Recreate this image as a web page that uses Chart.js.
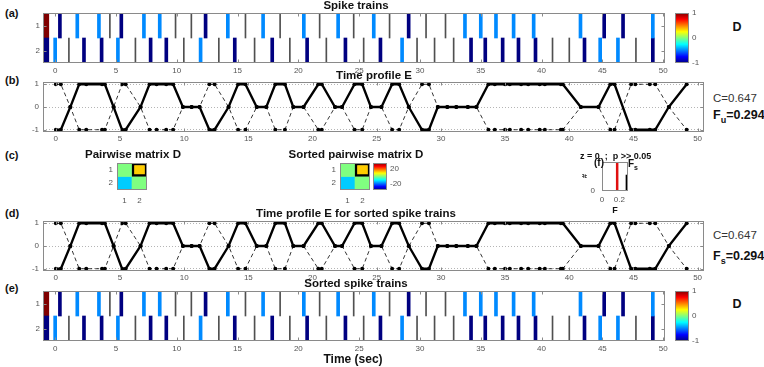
<!DOCTYPE html>
<html><head><meta charset="utf-8">
<script src="https://cdn.jsdelivr.net/npm/chart.js@4.4.1/dist/chart.umd.min.js"></script>
<style>
body{margin:0;background:#fff;width:764px;height:367px;overflow:hidden;position:relative;font-family:"Liberation Sans",Arial,sans-serif;}
.cv{position:absolute;}
.t{position:absolute;white-space:nowrap;color:#111;line-height:1;transform:translateY(-50%);}
.c{transform:translate(-50%,-50%);}
.b{font-weight:bold;}
sub{font-size:9px;vertical-align:-4px;}
</style></head><body>

<canvas id="cA" class="cv" style="left:20px;top:8px" width="648" height="69"></canvas>
<canvas id="cbA" class="cv" style="left:675px;top:8px" width="34" height="60"></canvas>
<canvas id="cB" class="cv" style="left:20px;top:77px" width="688" height="70"></canvas>
<canvas id="cM1" class="cv" style="left:100px;top:160px" width="50" height="47"></canvas>
<canvas id="cM2" class="cv" style="left:323px;top:160px" width="50" height="47"></canvas>
<canvas id="cbM" class="cv" style="left:373px;top:158px" width="40" height="37"></canvas>
<canvas id="cF" class="cv" style="left:585px;top:159px" width="46" height="47"></canvas>
<canvas id="cD" class="cv" style="left:20px;top:216px" width="688" height="70"></canvas>
<canvas id="cE" class="cv" style="left:20px;top:286px" width="648" height="69"></canvas>
<canvas id="cbE" class="cv" style="left:675px;top:286px" width="34" height="60"></canvas>

<div class="t b" style="left:5px;top:13px;font-size:11px">(a)</div>
<div class="t b" style="left:5px;top:80px;font-size:11px">(b)</div>
<div class="t b" style="left:5px;top:155px;font-size:11px">(c)</div>
<div class="t b" style="left:5px;top:213px;font-size:11px">(d)</div>
<div class="t b" style="left:5px;top:288px;font-size:11px">(e)</div>

<div class="t b c" style="left:356px;top:6px;font-size:11.5px">Spike trains</div>
<div class="t b c" style="left:374px;top:76px;font-size:11.5px">Time profile E</div>
<div class="t b c" style="left:133px;top:155px;font-size:11.5px">Pairwise matrix D</div>
<div class="t b c" style="left:356px;top:155px;font-size:11.5px">Sorted pairwise matrix D</div>
<div class="t b c" style="left:356px;top:214px;font-size:11.5px">Time profile E for sorted spike trains</div>
<div class="t b c" style="left:356px;top:284px;font-size:11.5px">Sorted spike trains</div>
<div class="t b c" style="left:353px;top:359px;font-size:12px">Time (sec)</div>

<div class="t b c" style="left:737px;top:27px;font-size:12.5px">D</div>
<div class="t b c" style="left:737px;top:304px;font-size:12.5px">D</div>

<div class="t" style="left:713px;top:99px;font-size:11.5px;color:#333">C=0.647</div>
<div class="t b" style="left:713px;top:117px;font-size:12.5px">F<sub>u</sub>=0.294</div>
<div class="t" style="left:713px;top:236px;font-size:11.5px;color:#333">C=0.647</div>
<div class="t b" style="left:713px;top:258px;font-size:12.5px">F<sub>s</sub>=0.294</div>

<div class="t b" style="left:580px;top:156px;font-size:9px">z = 0&nbsp; ;&nbsp; p &gt;&gt; 0.05</div>
<div class="t b" style="left:594px;top:163px;font-size:10px">(f)</div>
<div class="t b" style="left:628px;top:165px;font-size:10px">F<sub style="font-size:7px;vertical-align:-3px">s</sub></div>
<div class="t b c" style="left:585px;top:176px;font-size:8px;transform:translate(-50%,-50%) rotate(-90deg)">#</div>
<div class="t b c" style="left:615px;top:210px;font-size:9px">F</div>

<script>
// ---- spike trains (time in s, value D per spike; null = unmatched, thin gray)
const train1T=[0.39,1.82,3.6,4.5,5.44,7.3,8.6,9.9,11.2,12.37,14.2,15.65,17.1,18.5,20.45,21.75,23.27,24.55,26.2,27.5,29.07,30.5,32.1,33.7,35.0,36.25,37.7,39.35,43.2,45.15,46.7,49.15];
const train1V=[-1,-.48,-.48,null,-1,-.48,-.48,null,null,-1,-.48,null,-.48,null,-.48,null,-.48,null,-.48,null,-1,null,null,-.48,-.48,-.48,-.48,-.48,-.48,-1,-1,-.48];
const train2T=[0.0,1.13,2.37,3.82,5.16,6.6,7.85,9.14,10.58,11.96,13.46,14.77,16.4,17.85,19.3,20.72,22.3,23.87,25.37,26.75,28.53,29.76,31.2,32.77,34.2,35.37,36.8,38.1,39.5,40.9,42.28,43.53,44.82,46.28,47.76,49.15];
const train2V=[-.48,null,-1,-1,-.48,null,-1,-1,null,-.48,null,-1,null,-1,null,-1,null,-1,null,-1,-.48,null,null,null,-1,-1,-1,-1,-1,null,null,-1,-.48,-.48,null,-1];
const trainD=[1,-1];

// ---- time profile E at every spike
const profileT=[0,0.39,1.13,1.82,2.37,3.6,3.82,4.5,5.16,5.44,6.6,7.3,7.85,8.6,9.14,9.9,10.58,11.2,11.96,12.37,13.46,14.2,14.77,15.65,16.4,17.1,17.85,18.5,19.3,20.45,20.72,21.75,22.3,23.27,23.87,24.55,25.37,26.2,26.75,27.5,28.53,29.07,29.76,30.5,31.2,32.1,32.77,33.7,34.2,35.0,35.37,36.25,36.8,37.7,38.1,39.35,39.5,40.9,42.28,43.2,43.53,44.82,45.15,46.28,46.7,47.76,49.15];
const profileE=[-1,-1,0,1,1,1,1,0,-1,-1,0,1,1,1,1,0,0,0,-1,-1,0,1,1,0,0,1,1,0,0,1,1,0,0,1,1,0,0,1,1,0,-1,-1,0,0,0,0,0,1,1,1,1,1,1,1,1,1,1,0,0,1,1,-1,-1,-1,-1,0,1];

// ---- pairwise matrix, surrogate test
const matD=[[0,7],[-7,0]];
const matLabels=['1','2'];
const Fu=0.294, Fsurr=0.175, surrCount=0.55;

const timeTicks=[0,5,10,15,20,25,30,35,40,45,50];
const eTicks=[-1,0,1];

Chart.defaults.font.family='"Liberation Sans", Arial, sans-serif';
Chart.defaults.font.size=8;
Chart.defaults.color='#555';
Chart.defaults.animation=false;
Chart.defaults.responsive=false;
Chart.defaults.devicePixelRatio=1;
Chart.defaults.plugins.legend.display=false;
Chart.defaults.plugins.tooltip.enabled=false;

function jet(v,lo,hi){
  const t=(v-lo)/(hi-lo),cl=x=>Math.round(255*Math.max(0,Math.min(1,x)));
  return `rgb(${cl(1.5-Math.abs(4*t-3))},${cl(1.5-Math.abs(4*t-2))},${cl(1.5-Math.abs(4*t-1))})`;
}
const setTicks=arr=>s=>{s.ticks=arr.map(v=>({value:v}));};
const noPad=s=>{s.paddingTop=s.paddingBottom=s.paddingLeft=s.paddingRight=0;};
const fitW=w=>s=>{s.width=w;noPad(s);};
const fitH=h=>s=>{s.height=h;noPad(s);};
const noGrid={display:false,drawTicks:false,offset:false};

// matlab-like box with inward ticks
Chart.register({id:'box',afterDraw(c,a,o){
  if(!o||o.off)return;
  const r=c.chartArea,ctx=c.ctx;ctx.save();ctx.strokeStyle='#8a8a8a';ctx.lineWidth=1;
  const L=Math.round(r.left)+.5,T=Math.round(r.top)+.5,R=Math.round(r.right)-.5,B=Math.round(r.bottom)-.5;
  ctx.strokeRect(L,T,R-L,B-T);
  if(o.ticks){
    ctx.beginPath();
    const xs=c.scales.x,ys=c.scales.y;
    if(xs&&xs.options.display!==false)xs.ticks.forEach(t=>{const p=Math.round(xs.getPixelForValue(t.value))+.5;ctx.moveTo(p,T);ctx.lineTo(p,T+3);ctx.moveTo(p,B);ctx.lineTo(p,B-3);});
    if(ys)ys.ticks.forEach(t=>{const p=Math.round(ys.getPixelForValue(t.value))+.5;ctx.moveTo(L,p);ctx.lineTo(L+3,p);ctx.moveTo(R,p);ctx.lineTo(R-3,p);});
    ctx.stroke();
  }
  ctx.restore();
}});

function spikeChart(id){
  const ds=[{data:[{x:-0.77,y:[0.5,1.5]},{x:-0.77,y:[1.5,2.5]}],backgroundColor:trainD.map(v=>jet(v,-1,1)),barThickness:6}];
  [[train1T,train1V,0.5],[train2T,train2V,1.5]].forEach(([T,V,lo])=>{
    const g=T.map((t,i)=>i).filter(i=>V[i]===null), k=T.map((t,i)=>i).filter(i=>V[i]!==null);
    ds.push({data:g.map(i=>({x:T[i],y:[lo,lo+1]})),backgroundColor:'#505050',barThickness:1});
    ds.push({data:k.map(i=>({x:T[i],y:[lo,lo+1]})),backgroundColor:k.map(i=>jet(V[i],-1,1)),barThickness:3});
  });
  new Chart(document.getElementById(id),{type:'bar',data:{datasets:ds},
    options:{datasets:{bar:{grouped:false}},layout:{padding:{top:5,right:3}},
      plugins:{box:{ticks:true}},
      scales:{
        x:{type:'linear',offset:false,min:-1,max:50.15,afterBuildTicks:setTicks(timeTicks),grid:noGrid,border:{display:false},ticks:{padding:3,maxRotation:0,autoSkip:false},afterFit:fitH(14)},
        y:{type:'linear',reverse:true,min:0.5,max:2.5,afterBuildTicks:setTicks([1,2]),grid:noGrid,border:{display:false},ticks:{padding:3},afterFit:fitW(23)}
      }}});
}

function profileChart(id){
  new Chart(document.getElementById(id),{type:'line',
    data:{datasets:[
      {data:profileT.map((t,i)=>({x:t,y:profileE[i]})),borderColor:'#000',borderWidth:2.3,pointRadius:2,pointBackgroundColor:'#000',pointBorderWidth:0,tension:0},
      {data:profileT.map((t,i)=>({x:t,y:-profileE[i]})),borderColor:'#000',borderWidth:0.8,borderDash:[4,3],pointRadius:2,pointBackgroundColor:'#000',pointBorderWidth:0,tension:0}
    ]},
    options:{layout:{padding:{top:5,right:3}},plugins:{box:{ticks:true}},
      scales:{
        x:{type:'linear',min:-1,max:50.5,afterBuildTicks:setTicks(timeTicks),grid:noGrid,border:{display:false},ticks:{padding:2,maxRotation:0,autoSkip:false},afterFit:fitH(15)},
        y:{min:-1.1,max:1.1,afterBuildTicks:setTicks(eTicks),grid:{color:'#b5b5b5',drawTicks:false,tickBorderDash:[1,2]},border:{display:false,dash:[1,2]},ticks:{padding:4},afterFit:fitW(23)}
      }}});
}

function colorbar(id,lo,hi,ticks,padT,padB){
  new Chart(document.getElementById(id),{type:'bar',
    data:{labels:[''],datasets:[{data:[[lo,hi]],barPercentage:1,categoryPercentage:1,
      backgroundColor:c=>{const a=c.chart.chartArea;if(!a)return '#000';const g=c.chart.ctx.createLinearGradient(0,a.bottom,0,a.top);for(let i=0;i<=8;i++)g.addColorStop(i/8,jet(i/8,0,1));return g;}}]},
    options:{layout:{padding:{top:padT,bottom:padB}},plugins:{box:{}},
      scales:{x:{display:false},
        y:{position:'right',min:lo,max:hi,afterBuildTicks:setTicks(ticks),grid:noGrid,border:{display:false},ticks:{padding:3},afterFit:fitW(lo<-5?26:20)}}}});
}

function matrixChart(id){
  const ds=matD.map((row,r)=>({data:row.map(()=>[r+0.5,r+1.5]),backgroundColor:row.map(v=>jet(v,-20,20)),
    borderColor:'#000',borderWidth:row.map(v=>v>0?2.5:0),borderSkipped:false,barPercentage:1,categoryPercentage:1}));
  new Chart(document.getElementById(id),{type:'bar',data:{labels:matLabels,datasets:ds},
    options:{datasets:{bar:{grouped:false}},layout:{padding:{top:3,right:3}},plugins:{box:{}},
      scales:{
        x:{grid:{display:false,drawTicks:false},border:{display:false},ticks:{padding:6},afterFit:fitH(17)},
        y:{reverse:true,min:0.5,max:2.5,afterBuildTicks:setTicks([1,2]),grid:noGrid,border:{display:false},ticks:{padding:4},afterFit:fitW(17)}
      }}});
}

spikeChart('cA');spikeChart('cE');
colorbar('cbA',-1,1,[-1,0,1],5,5);colorbar('cbE',-1,1,[-1,0,1],5,5);
profileChart('cB');profileChart('cD');
matrixChart('cM1');matrixChart('cM2');
colorbar('cbM',-36,36,[-20,0,20],5,5);

new Chart(document.getElementById('cF'),{type:'bar',
  data:{datasets:[
    {type:'line',data:[{x:Fsurr,y:0},{x:Fsurr,y:1}],borderColor:'#e01010',borderWidth:2.5,pointRadius:0},
    {data:[{x:Fu,y:surrCount}],backgroundColor:'#000',barThickness:3}
  ]},
  options:{layout:{padding:{top:3,right:3}},plugins:{box:{}},
    scales:{
      x:{type:'linear',offset:false,min:0,max:0.3,afterBuildTicks:setTicks([0,0.2]),grid:noGrid,border:{display:false},ticks:{padding:4,maxRotation:0,autoSkip:false},afterFit:fitH(15)},
      y:{min:0,max:1,afterBuildTicks:setTicks([0]),grid:noGrid,border:{display:false},ticks:{padding:7},afterFit:fitW(17)}
    }}});
</script>
</body></html>
